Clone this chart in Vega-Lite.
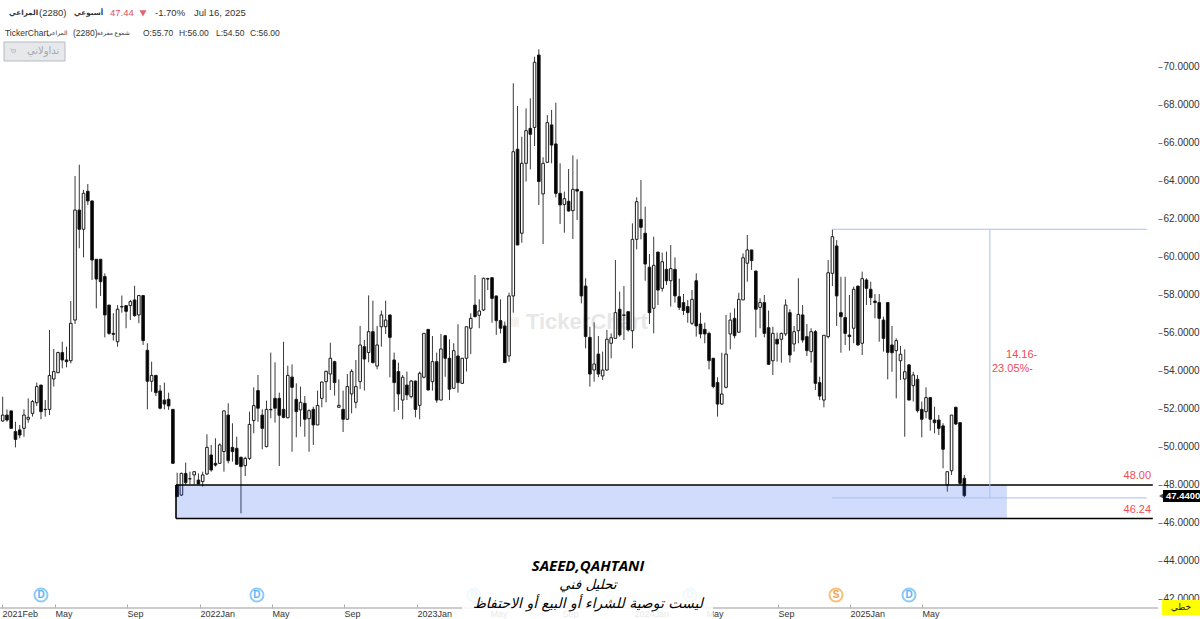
{"$schema":"https://vega.github.io/schema/vega-lite/v6.json","width":1200,"height":619,"padding":0,"autosize":{"type":"none"},"background":"#ffffff","config":{"view":{"stroke":null},"font":"Liberation Sans, DejaVu Sans"},
"datasets":{"candles":[
{"w":0,"o":51.37,"h":52.65,"l":51.33,"c":51.68},{"w":1,"o":51.68,"h":51.98,"l":51.33,"c":51.42},{"w":2,"o":51.9,"h":51.9,"l":50.98,"c":50.98},{"w":3,"o":50.81,"h":51.33,"l":49.98,"c":50.4},{"w":4,"o":50.9,"h":51.16,"l":50.46,"c":50.63},{"w":5,"o":50.98,"h":51.98,"l":50.54,"c":51.68},{"w":6,"o":51.46,"h":52.56,"l":51.28,"c":51.56},{"w":7,"o":51.77,"h":52.47,"l":51.6,"c":52.39},{"w":8,"o":52.33,"h":53.39,"l":52.16,"c":53.18},{"w":9,"o":53.26,"h":53.26,"l":51.46,"c":51.86},
{"w":10,"o":51.98,"h":52.47,"l":51.6,"c":51.97},{"w":11,"o":51.98,"h":56.16,"l":51.68,"c":53.76},{"w":12,"o":53.58,"h":55.16,"l":53.18,"c":53.97},{"w":13,"o":53.91,"h":55.02,"l":53.91,"c":54.97},{"w":14,"o":54.97,"h":55.54,"l":54.14,"c":54.58},{"w":15,"o":54.58,"h":55.28,"l":54.19,"c":54.49},{"w":16,"o":54.54,"h":57.68,"l":54.4,"c":56.51},{"w":17,"o":56.68,"h":64.26,"l":56.47,"c":62.47},{"w":18,"o":62.47,"h":64.86,"l":60.46,"c":61.46},{"w":19,"o":61.46,"h":63.53,"l":59.98,"c":63.35},
{"w":20,"o":63.46,"h":63.84,"l":62.74,"c":62.95},{"w":21,"o":62.95,"h":62.97,"l":58.79,"c":59.84},{"w":22,"o":59.88,"h":59.88,"l":57.3,"c":58.84},{"w":23,"o":59.88,"h":59.88,"l":57.95,"c":58.7},{"w":24,"o":58.97,"h":59.14,"l":55.77,"c":56.95},{"w":25,"o":57.47,"h":57.47,"l":55.9,"c":55.98},{"w":26,"o":55.98,"h":57.04,"l":55.6,"c":55.93},{"w":27,"o":55.54,"h":57.47,"l":55.28,"c":57.25},{"w":28,"o":57.39,"h":57.97,"l":57.07,"c":57.37},{"w":29,"o":57.44,"h":57.44,"l":56.25,"c":57.14},
{"w":30,"o":57.44,"h":57.74,"l":56.68,"c":57.65},{"w":31,"o":57.74,"h":58.49,"l":56.86,"c":56.91},{"w":32,"o":56.95,"h":58,"l":56.51,"c":57.97},{"w":33,"o":57.97,"h":57.97,"l":55.37,"c":55.6},{"w":34,"o":55.09,"h":55.46,"l":51.98,"c":53.46},{"w":35,"o":53.46,"h":54.49,"l":52.91,"c":53.77},{"w":36,"o":53.77,"h":53.77,"l":52.68,"c":52.86},{"w":37,"o":52.95,"h":53.26,"l":51.98,"c":52.04},{"w":38,"o":52.47,"h":53.39,"l":51.98,"c":52.26},{"w":39,"o":52.51,"h":52.86,"l":51.95,"c":52.16},
{"w":40,"o":51.98,"h":51.98,"l":49.14,"c":49.14},{"w":41,"o":48,"h":48.65,"l":47.39,"c":47.39},{"w":42,"o":47.47,"h":48.65,"l":47.42,"c":48.61},{"w":43,"o":48.61,"h":49.18,"l":48,"c":48.12},{"w":44,"o":48.33,"h":48.7,"l":48.04,"c":48.32},{"w":45,"o":48.53,"h":48.7,"l":48.04,"c":48.7},{"w":46,"o":48.26,"h":48.61,"l":48.04,"c":48.05},{"w":47,"o":48.18,"h":48.7,"l":47.91,"c":48.53},{"w":48,"o":48.58,"h":50.67,"l":48.53,"c":49.98},{"w":49,"o":49.58,"h":50.11,"l":48.7,"c":48.79},
{"w":50,"o":49.14,"h":50.46,"l":48.97,"c":49.05},{"w":51,"o":49.14,"h":50.19,"l":49.11,"c":50.11},{"w":52,"o":49.76,"h":51.91,"l":48.7,"c":51.9},{"w":53,"o":51.68,"h":52.3,"l":49.14,"c":49.28},{"w":54,"o":49.98,"h":51.25,"l":49.23,"c":49.76},{"w":55,"o":49.93,"h":50.54,"l":49.05,"c":49.09},{"w":56,"o":49.46,"h":49.49,"l":46.51,"c":48.97},{"w":57,"o":49.02,"h":49.49,"l":48.47,"c":49.4},{"w":58,"o":49.4,"h":51.86,"l":49.32,"c":51.19},{"w":59,"o":51.39,"h":53.14,"l":50.72,"c":52.18},
{"w":60,"o":52.97,"h":53.79,"l":51.33,"c":52.04},{"w":61,"o":51.68,"h":51.98,"l":49.88,"c":50.98},{"w":62,"o":50.02,"h":52.44,"l":49.98,"c":51.98},{"w":63,"o":51.98,"h":54.97,"l":51.51,"c":51.96},{"w":64,"o":52.56,"h":54.46,"l":51.28,"c":52.04},{"w":65,"o":52.56,"h":52.86,"l":49,"c":51.67},{"w":66,"o":51.98,"h":55.54,"l":51.51,"c":51.56},{"w":67,"o":51.54,"h":54.28,"l":51.51,"c":53.77},{"w":68,"o":53.68,"h":54.35,"l":49.75,"c":53.14},{"w":69,"o":52.51,"h":53.35,"l":50.51,"c":51.86},
{"w":70,"o":51.95,"h":53.18,"l":51.07,"c":52.35},{"w":71,"o":52.3,"h":52.68,"l":50.54,"c":51.46},{"w":72,"o":51.49,"h":51.98,"l":49.75,"c":51.91},{"w":73,"o":51.98,"h":52.12,"l":50.11,"c":51.16},{"w":74,"o":51.16,"h":52.97,"l":51.16,"c":52.19},{"w":75,"o":52.56,"h":53.44,"l":52.09,"c":53.42},{"w":76,"o":53.44,"h":54.02,"l":52.35,"c":53.98},{"w":77,"o":53.84,"h":55.49,"l":53,"c":54.67},{"w":78,"o":54.49,"h":54.54,"l":52.7,"c":53.39},{"w":79,"o":52.09,"h":53.56,"l":52.09,"c":52.19},
{"w":80,"o":51.98,"h":52.97,"l":50.79,"c":51.46},{"w":81,"o":51.46,"h":53.84,"l":51.42,"c":53.18},{"w":82,"o":52.79,"h":54.09,"l":51.77,"c":53.98},{"w":83,"o":52.35,"h":54.58,"l":52.04,"c":53.18},{"w":84,"o":53.44,"h":56.37,"l":53.05,"c":55.37},{"w":85,"o":55.28,"h":55.63,"l":52.97,"c":54.63},{"w":86,"o":54.97,"h":57.98,"l":54.46,"c":56.07},{"w":87,"o":56.07,"h":57.7,"l":54.4,"c":54.44},{"w":88,"o":54.26,"h":56.37,"l":54.09,"c":55.37},{"w":89,"o":56.33,"h":57.18,"l":55.28,"c":56.95},
{"w":90,"o":56.33,"h":57.7,"l":55.95,"c":56.68},{"w":91,"o":56.95,"h":56.95,"l":53.67,"c":55.77},{"w":92,"o":54.58,"h":54.97,"l":51.86,"c":53.39},{"w":93,"o":53.97,"h":54.44,"l":51.95,"c":52.79},{"w":94,"o":52.47,"h":53.79,"l":51.46,"c":53.67},{"w":95,"o":53.26,"h":53.97,"l":52.47,"c":52.74},{"w":96,"o":52.65,"h":53.53,"l":52.56,"c":53.47},{"w":97,"o":53.47,"h":53.49,"l":51.56,"c":51.98},{"w":98,"o":52.19,"h":53.97,"l":51.46,"c":53.88},{"w":99,"o":53.67,"h":55.98,"l":53.61,"c":55.98},
{"w":100,"o":56.19,"h":56.19,"l":52.97,"c":53},{"w":101,"o":53.44,"h":55.84,"l":52.97,"c":54.49},{"w":102,"o":54.49,"h":54.97,"l":52.33,"c":52.47},{"w":103,"o":52.47,"h":55.95,"l":52.47,"c":55.16},{"w":104,"o":55.86,"h":55.9,"l":53.7,"c":54.67},{"w":105,"o":54.67,"h":55.67,"l":52.47,"c":53.04},{"w":106,"o":53.09,"h":55.46,"l":53.09,"c":55.07},{"w":107,"o":54.79,"h":56.46,"l":52.86,"c":53.39},{"w":108,"o":53.35,"h":54.67,"l":53.32,"c":54.67},{"w":109,"o":54.67,"h":56.33,"l":53.97,"c":56.33},
{"w":110,"o":56.25,"h":57.04,"l":54.89,"c":56.77},{"w":111,"o":57.47,"h":59.05,"l":56.82,"c":56.86},{"w":112,"o":56.93,"h":57.77,"l":56.25,"c":57.16},{"w":113,"o":57.21,"h":58.91,"l":57.16,"c":58.88},{"w":114,"o":58.86,"h":58.91,"l":58.26,"c":58.84},{"w":115,"o":58.91,"h":58.91,"l":56.54,"c":57.82},{"w":116,"o":57.95,"h":57.95,"l":55.9,"c":56.65},{"w":117,"o":56.65,"h":57.77,"l":55.98,"c":56.25},{"w":118,"o":56.37,"h":56.6,"l":54.44,"c":54.44},{"w":119,"o":54.79,"h":58.12,"l":54.49,"c":57.95},
{"w":120,"o":57.95,"h":69.14,"l":57.07,"c":65.54},{"w":121,"o":65.67,"h":67.95,"l":60.63,"c":60.63},{"w":122,"o":61.25,"h":66.33,"l":60.75,"c":64.93},{"w":123,"o":64.93,"h":67.82,"l":63.97,"c":66.65},{"w":124,"o":66.77,"h":68.35,"l":64.61,"c":66.46},{"w":125,"o":66.82,"h":70.54,"l":65.84,"c":70.25},{"w":126,"o":70.63,"h":70.93,"l":62.74,"c":63.97},{"w":127,"o":63.32,"h":65.25,"l":60.68,"c":64.93},{"w":128,"o":64.98,"h":67.47,"l":64.97,"c":67.07},{"w":129,"o":66.95,"h":67.74,"l":64.93,"c":65.89},
{"w":130,"o":65.95,"h":68.12,"l":63.14,"c":63.35},{"w":131,"o":63.35,"h":64.93,"l":61.74,"c":62.74},{"w":132,"o":62.76,"h":63.44,"l":61.28,"c":63.07},{"w":133,"o":62.93,"h":64.63,"l":62.39,"c":62.42},{"w":134,"o":62.44,"h":65.35,"l":60.95,"c":63.56},{"w":135,"o":63.56,"h":65.14,"l":61.95,"c":63.47},{"w":136,"o":63.44,"h":63.44,"l":57.56,"c":57.95},{"w":137,"o":58.47,"h":58.88,"l":55.19,"c":55.81},{"w":138,"o":55.77,"h":56.33,"l":53.18,"c":53.84},{"w":139,"o":54.05,"h":56.56,"l":53.44,"c":54.37},
{"w":140,"o":54.89,"h":55.84,"l":53.67,"c":53.84},{"w":141,"o":53.74,"h":55.02,"l":53.53,"c":54.05},{"w":142,"o":54.05,"h":56.16,"l":54.02,"c":55.67},{"w":143,"o":55.46,"h":55.98,"l":54.67,"c":55.75},{"w":144,"o":55.72,"h":59.84,"l":55.72,"c":57.07},{"w":145,"o":57.25,"h":58.18,"l":55.81,"c":55.9},{"w":146,"o":56.95,"h":58.47,"l":55.63,"c":56.93},{"w":147,"o":57.12,"h":57.12,"l":56.07,"c":56.16},{"w":148,"o":56.12,"h":61.77,"l":55.19,"c":60.93},{"w":149,"o":60.93,"h":63.14,"l":60.4,"c":62.91},
{"w":150,"o":61.98,"h":64.05,"l":60.93,"c":61.56},{"w":151,"o":61.25,"h":62.65,"l":58.75,"c":59.63},{"w":152,"o":59.46,"h":60.16,"l":56.47,"c":57.07},{"w":153,"o":57.3,"h":61.07,"l":55.98,"c":59.56},{"w":154,"o":60.26,"h":60.26,"l":57.47,"c":58.26},{"w":155,"o":58.35,"h":60.23,"l":58.18,"c":59.75},{"w":156,"o":59.35,"h":60.28,"l":58.53,"c":58.75},{"w":157,"o":58.75,"h":60.63,"l":57.39,"c":59.39},{"w":158,"o":59.35,"h":59.98,"l":57.6,"c":57.95},{"w":159,"o":57.91,"h":58.86,"l":57.21,"c":57.35},
{"w":160,"o":57.6,"h":58.05,"l":56.95,"c":57.18},{"w":161,"o":57.39,"h":57.74,"l":56.54,"c":57.07},{"w":162,"o":56.51,"h":58.26,"l":56.42,"c":57.77},{"w":163,"o":58.75,"h":59.14,"l":55.81,"c":56.37},{"w":164,"o":56.47,"h":57.07,"l":55.72,"c":55.95},{"w":165,"o":56.19,"h":56.54,"l":55.46,"c":55.95},{"w":166,"o":55.98,"h":56.07,"l":54.09,"c":54.54},{"w":167,"o":54.67,"h":54.67,"l":53.09,"c":53.18},{"w":168,"o":53.39,"h":53.67,"l":51.6,"c":52.26},{"w":169,"o":52.26,"h":54.96,"l":52.21,"c":52.79},
{"w":170,"o":53.14,"h":56.95,"l":53.09,"c":54.89},{"w":171,"o":55.95,"h":57.07,"l":55.14,"c":56.68},{"w":172,"o":56.77,"h":57.3,"l":55.72,"c":55.86},{"w":173,"o":56.04,"h":58.12,"l":56.02,"c":57.77},{"w":174,"o":57.74,"h":60.19,"l":57.74,"c":59.96},{"w":175,"o":59.67,"h":61.16,"l":58.7,"c":60.37},{"w":176,"o":60.37,"h":60.37,"l":59.32,"c":59.81},{"w":177,"o":59.26,"h":59.28,"l":55.77,"c":57.25},{"w":178,"o":57.35,"h":57.82,"l":56.25,"c":57.6},{"w":179,"o":57.6,"h":58,"l":55.77,"c":55.98},
{"w":180,"o":56.28,"h":57.18,"l":54.32,"c":54.35},{"w":181,"o":54.54,"h":56.33,"l":53.79,"c":55.98},{"w":182,"o":55.67,"h":56.02,"l":54.49,"c":55.42},{"w":183,"o":55.67,"h":56.02,"l":54.44,"c":55.98},{"w":184,"o":55.95,"h":57.77,"l":55.84,"c":57.47},{"w":185,"o":57.07,"h":57.25,"l":54.44,"c":54.84},{"w":186,"o":55.42,"h":56.37,"l":55.02,"c":56.07},{"w":187,"o":56.12,"h":58.88,"l":55.46,"c":56.98},{"w":188,"o":56.95,"h":57.47,"l":55.49,"c":55.63},{"w":189,"o":55.81,"h":56.47,"l":54.79,"c":55.07},
{"w":190,"o":55.02,"h":56.25,"l":54.44,"c":56.07},{"w":191,"o":56.07,"h":56.16,"l":53,"c":53.35},{"w":192,"o":53.39,"h":53.7,"l":52.47,"c":52.68},{"w":193,"o":52.47,"h":55.89,"l":52.09,"c":55.88},{"w":194,"o":55.81,"h":59.84,"l":55.72,"c":59.17},{"w":195,"o":59.14,"h":61.46,"l":58.47,"c":61.07},{"w":196,"o":60.58,"h":60.89,"l":56.37,"c":57.95},{"w":197,"o":57.07,"h":58.96,"l":54.96,"c":56.86},{"w":198,"o":56.81,"h":58.96,"l":55.37,"c":55.98},{"w":199,"o":55.89,"h":58,"l":55.07,"c":55.81},
{"w":200,"o":56.25,"h":58.44,"l":55.46,"c":58.3},{"w":201,"o":58.47,"h":58.47,"l":55.32,"c":55.37},{"w":202,"o":55.46,"h":59.23,"l":54.84,"c":58.86},{"w":203,"o":58.79,"h":58.88,"l":57.47,"c":58.35},{"w":204,"o":58.3,"h":58.7,"l":57.47,"c":57.86},{"w":205,"o":57.68,"h":58.05,"l":56.77,"c":57.6},{"w":206,"o":57.6,"h":58.05,"l":55.54,"c":56.77},{"w":207,"o":56.68,"h":56.86,"l":55.02,"c":55.72},{"w":208,"o":57.6,"h":57.6,"l":53.56,"c":54.98},{"w":209,"o":55.37,"h":56.37,"l":53.96,"c":54.96},
{"w":210,"o":55.07,"h":55.72,"l":52.56,"c":55.6},{"w":211,"o":54.54,"h":55.32,"l":53.53,"c":54.88},{"w":212,"o":53.58,"h":55.14,"l":50.54,"c":53.96},{"w":213,"o":54.32,"h":54.37,"l":52.47,"c":52.47},{"w":214,"o":53.23,"h":53.96,"l":52.39,"c":53.79},{"w":215,"o":53.56,"h":53.79,"l":51.81,"c":51.91},{"w":216,"o":51.98,"h":52.39,"l":50.51,"c":51.46},{"w":217,"o":51.86,"h":53.14,"l":51.51,"c":52.6},{"w":218,"o":52.6,"h":52.6,"l":50.86,"c":51.46},{"w":219,"o":51.42,"h":52.12,"l":50.72,"c":51.28},
{"w":220,"o":51.42,"h":51.68,"l":50.63,"c":50.98},{"w":221,"o":51.11,"h":51.25,"l":48.88,"c":49.88},{"w":222,"o":48,"h":48.7,"l":47.65,"c":48.7},{"w":223,"o":48.75,"h":51.68,"l":48.53,"c":51.68},{"w":224,"o":52.09,"h":52.12,"l":51.16,"c":51.21},{"w":225,"o":51.28,"h":51.28,"l":48,"c":48.09},{"w":226,"o":48.35,"h":48.53,"l":47.35,"c":47.44}
]},
"encoding":{"x":{"field":"w","type":"quantitative","title":null,"scale":{"domain":[-0.6345,281.39],"nice":false,"zero":false,"padding":0},"axis":{"orient":"bottom","offset":-11,"domain":false,"ticks":true,"tickSize":-4,"tickColor":"#aaaaaa","grid":false,"title":null,"labelFontSize":9,"labelColor":"#333333","labelAlign":"left","labelBaseline":"top","labelPadding":5,"labelOverlap":false,"labelBound":false,"labelFlush":false,"values":[-0.16,12.29,29.21,46.37,63.29,80.21,97.37,114.52,131.44,148.37,165.29,182.21,199.13,216.05],"labelExpr":"{'-0.16':'2021Feb','12.29':'May','29.21':'Sep','46.37':'2022Jan','63.29':'May','80.21':'Sep','97.37':'2023Jan','114.52':'May','131.44':'Sep','148.37':'2024Jan','165.29':'May','182.21':'Sep','199.13':'2025Jan','216.05':'May'}['' + datum.value]"}}},
"layer":[
{"data":{"values":[{"w":120.2,"p":56.58}]},"mark":{"type":"point","shape":"square","filled":true,"size":90,"color":"#f1ece2"},"encoding":{"y":{"field":"p","type":"quantitative","title":null,"scale":{"domain":[40.947,73.526],"nice":false,"zero":false,"padding":0},"axis":{"orient":"right","offset":-42,"values":[42,44,46,48,50,52,54,56,58,60,62,64,66,68,70],"format":".4f","domain":false,"grid":false,"title":null,"tickSize":4,"tickColor":"#777777","labelFontSize":10,"labelColor":"#333333","labelPadding":1,"labelOverlap":false,"labelBound":false}}}},
{"data":{"values":[{"w":137.3,"p":56.58,"t":"TickerChart"}]},"mark":{"type":"text","fontSize":22,"fontWeight":"bold","color":"#e7e7e7","align":"center","baseline":"middle"},"encoding":{"text":{"field":"t"},"y":{"field":"p","type":"quantitative","scale":{"domain":[40.947,73.526],"nice":false,"zero":false,"padding":0}}}},
{"data":{"name":"candles"},"mark":{"type":"rule","color":"#3a3a3a","strokeWidth":1},"encoding":{"y":{"field":"h","type":"quantitative","scale":{"domain":[40.947,73.526],"nice":false,"zero":false,"padding":0}},"y2":{"field":"l"}}},
{"data":{"name":"candles"},"mark":{"type":"bar","width":2.6,"stroke":"#1a1a1a","strokeWidth":1},"encoding":{"y":{"field":"o","type":"quantitative","scale":{"domain":[40.947,73.526],"nice":false,"zero":false,"padding":0}},"y2":{"field":"c"},"fill":{"condition":{"test":"datum.c > datum.o","value":"#ffffff"},"value":"#000000"}}},
{"data":{"values":[{"w":40.73,"w2":236,"p":48,"p2":46.24}]},"mark":{"type":"rect","color":"#2f5ff0","opacity":0.22},"encoding":{"x2":{"field":"w2"},"y":{"field":"p","type":"quantitative","scale":{"domain":[40.947,73.526],"nice":false,"zero":false,"padding":0}},"y2":{"field":"p2"}}},
{"data":{"values":[{"w":40.73,"w2":270.3,"p":48},{"w":40.73,"w2":270.3,"p":46.24}]},"mark":{"type":"rule","color":"#000000","strokeWidth":1.6},"encoding":{"x2":{"field":"w2"},"y":{"field":"p","type":"quantitative","scale":{"domain":[40.947,73.526],"nice":false,"zero":false,"padding":0}}}},
{"data":{"values":[{"w":40.73,"p":48,"p2":46.24}]},"mark":{"type":"rule","color":"#000000","strokeWidth":1.6},"encoding":{"y":{"field":"p","type":"quantitative","scale":{"domain":[40.947,73.526],"nice":false,"zero":false,"padding":0}},"y2":{"field":"p2"}}},
{"data":{"values":[{"w":194.9,"w2":268.9,"p":61.46},{"w":194.9,"w2":268.9,"p":47.32}]},"mark":{"type":"rule","color":"#a9c0f5","strokeWidth":1},"encoding":{"x2":{"field":"w2"},"y":{"field":"p","type":"quantitative","scale":{"domain":[40.947,73.526],"nice":false,"zero":false,"padding":0}}}},
{"data":{"values":[{"w":232,"p":61.46,"p2":47.32}]},"mark":{"type":"rule","color":"#a9c0f5","strokeWidth":1},"encoding":{"y":{"field":"p","type":"quantitative","scale":{"domain":[40.947,73.526],"nice":false,"zero":false,"padding":0}},"y2":{"field":"p2"}}},
{"data":{"values":[{"w":-0.63,"w2":271.5,"p":41.53}]},"mark":{"type":"rule","color":"#bbbbbb","strokeWidth":1.5},"encoding":{"x2":{"field":"w2"},"y":{"field":"p","type":"quantitative","scale":{"domain":[40.947,73.526],"nice":false,"zero":false,"padding":0}}}},
{"data":{"values":[{"w":9,"p":42.21,"k":"D"},{"w":59.76,"p":42.21,"k":"D"},{"w":110.76,"p":42.21,"k":"D"},{"w":161.5,"p":42.21,"k":"D"},{"w":213,"p":42.21,"k":"D"},{"w":195.84,"p":42.21,"k":"S"}]},"mark":{"type":"point","shape":"circle","size":170,"filled":true,"strokeWidth":2,"fill":"#ffffff"},"encoding":{"stroke":{"field":"k","type":"nominal","legend":null,"scale":{"domain":["D","S"],"range":["#5db4f5","#f7a541"]}},"y":{"field":"p","type":"quantitative","scale":{"domain":[40.947,73.526],"nice":false,"zero":false,"padding":0}}}},
{"data":{"values":[{"w":9,"p":42.21,"k":"D"},{"w":59.76,"p":42.21,"k":"D"},{"w":110.76,"p":42.21,"k":"D"},{"w":161.5,"p":42.21,"k":"D"},{"w":213,"p":42.21,"k":"D"},{"w":195.84,"p":42.21,"k":"S"}]},"mark":{"type":"text","fontSize":10,"fontWeight":"bold","align":"center","baseline":"middle"},"encoding":{"text":{"field":"k"},"color":{"field":"k","type":"nominal","legend":null,"scale":{"domain":["D","S"],"range":["#5db4f5","#f7a541"]}},"y":{"field":"p","type":"quantitative","scale":{"domain":[40.947,73.526],"nice":false,"zero":false,"padding":0}}}},
{"data":{"values":[{"w":107.94,"w2":166.93,"p":44.05,"p2":40.947}]},"mark":{"type":"rect","color":"#ffffff","opacity":0.88},"encoding":{"x2":{"field":"w2"},"y":{"field":"p","type":"quantitative","scale":{"domain":[40.947,73.526],"nice":false,"zero":false,"padding":0}},"y2":{"field":"p2"}}},
{"data":{"values":[{"w":137.55,"p":43.74,"t":"SAEED,QAHTANI"}]},"mark":{"type":"text","font":"Open Sans","fontSize":15,"fontWeight":"bold","fontStyle":"italic","color":"#000000","align":"center","baseline":"middle"},"encoding":{"text":{"field":"t"},"y":{"field":"p","type":"quantitative","scale":{"domain":[40.947,73.526],"nice":false,"zero":false,"padding":0}}}},
{"data":{"values":[{"w":137.55,"p":42.74,"t":"تحليل فني"}]},"mark":{"type":"text","font":"DejaVu Sans","fontSize":13.5,"fontStyle":"italic","color":"#000000","align":"center","baseline":"middle"},"encoding":{"text":{"field":"t"},"y":{"field":"p","type":"quantitative","scale":{"domain":[40.947,73.526],"nice":false,"zero":false,"padding":0}}}},
{"data":{"values":[{"w":137.55,"p":41.74,"t":"ليست توصية للشراء أو البيع أو الاحتفاظ"}]},"mark":{"type":"text","font":"DejaVu Sans","fontSize":14,"fontStyle":"italic","color":"#000000","align":"center","baseline":"middle"},"encoding":{"text":{"field":"t"},"y":{"field":"p","type":"quantitative","scale":{"domain":[40.947,73.526],"nice":false,"zero":false,"padding":0}}}},
{"data":{"values":[{"w":235.8,"p":54.84,"t":"14.16-"},{"w":232.5,"p":54.11,"t":"23.05%-"}]},"mark":{"type":"text","fontSize":11,"color":"#f24a55","align":"left","baseline":"middle"},"encoding":{"text":{"field":"t"},"y":{"field":"p","type":"quantitative","scale":{"domain":[40.947,73.526],"nice":false,"zero":false,"padding":0}}}},
{"data":{"values":[{"w":269.9,"p":48.47,"t":"48.00"},{"w":269.9,"p":46.71,"t":"46.24"}]},"mark":{"type":"text","fontSize":11,"color":"#f24a55","align":"right","baseline":"middle"},"encoding":{"text":{"field":"t"},"y":{"field":"p","type":"quantitative","scale":{"domain":[40.947,73.526],"nice":false,"zero":false,"padding":0}}}},
{"data":{"values":[{"w":272.7,"w2":281.39,"p":47.74,"p2":47.11}]},"mark":{"type":"rect","color":"#000000"},"encoding":{"x2":{"field":"w2"},"y":{"field":"p","type":"quantitative","scale":{"domain":[40.947,73.526],"nice":false,"zero":false,"padding":0}},"y2":{"field":"p2"}}},
{"data":{"values":[{"w":272.6,"p":47.42}]},"mark":{"type":"point","shape":"triangle-left","filled":true,"size":70,"color":"#000000"},"encoding":{"y":{"field":"p","type":"quantitative","scale":{"domain":[40.947,73.526],"nice":false,"zero":false,"padding":0}}}},
{"data":{"values":[{"w":273.4,"p":47.42,"t":"47.4400"}]},"mark":{"type":"text","fontSize":9.5,"fontWeight":"bold","color":"#ffffff","align":"left","baseline":"middle"},"encoding":{"text":{"field":"t"},"y":{"field":"p","type":"quantitative","scale":{"domain":[40.947,73.526],"nice":false,"zero":false,"padding":0}}}},
{"data":{"values":[{"w":272.46,"w2":281.39,"p":41.95,"p2":41.16}]},"mark":{"type":"rect","color":"#ffff00"},"encoding":{"x2":{"field":"w2"},"y":{"field":"p","type":"quantitative","scale":{"domain":[40.947,73.526],"nice":false,"zero":false,"padding":0}},"y2":{"field":"p2"}}},
{"data":{"values":[{"w":276.9,"p":41.58,"t":"خطي"}]},"mark":{"type":"text","font":"DejaVu Sans","fontSize":9,"color":"#222222","align":"center","baseline":"middle"},"encoding":{"text":{"field":"t"},"y":{"field":"p","type":"quantitative","scale":{"domain":[40.947,73.526],"nice":false,"zero":false,"padding":0}}}},
{"data":{"values":[{"w":1.48,"p":72.84,"t":"المراعي"},{"w":16.76,"p":72.84,"t":"أسبوعي"}]},"mark":{"type":"text","fontSize":7.2,"fontWeight":"bold","color":"#333333","align":"left","baseline":"middle"},"encoding":{"text":{"field":"t"},"y":{"field":"p","type":"quantitative","scale":{"domain":[40.947,73.526],"nice":false,"zero":false,"padding":0}}}},
{"data":{"values":[{"w":8.53,"p":72.84,"t":"(2280)"},{"w":35.79,"p":72.84,"t":"-1.70%"},{"w":44.96,"p":72.84,"t":"Jul 16, 2025"}]},"mark":{"type":"text","fontSize":9.5,"color":"#333333","align":"left","baseline":"middle"},"encoding":{"text":{"field":"t"},"y":{"field":"p","type":"quantitative","scale":{"domain":[40.947,73.526],"nice":false,"zero":false,"padding":0}}}},
{"data":{"values":[{"w":25.22,"p":72.84,"t":"47.44"}]},"mark":{"type":"text","fontSize":9.5,"color":"#e0525c","align":"left","baseline":"middle"},"encoding":{"text":{"field":"t"},"y":{"field":"p","type":"quantitative","scale":{"domain":[40.947,73.526],"nice":false,"zero":false,"padding":0}}}},
{"data":{"values":[{"w":32.97,"p":72.82}]},"mark":{"type":"point","shape":"triangle-down","filled":true,"size":50,"color":"#d42035"},"encoding":{"y":{"field":"p","type":"quantitative","scale":{"domain":[40.947,73.526],"nice":false,"zero":false,"padding":0}}}},
{"data":{"values":[{"w":10.4,"p":71.79,"t":"المراعي"},{"w":22.16,"p":71.79,"t":"شموع مفرغة"}]},"mark":{"type":"text","fontSize":6,"color":"#333333","align":"left","baseline":"middle"},"encoding":{"text":{"field":"t"},"y":{"field":"p","type":"quantitative","scale":{"domain":[40.947,73.526],"nice":false,"zero":false,"padding":0}}}},
{"data":{"values":[{"w":0.54,"p":71.79,"t":"TickerChart"},{"w":16.52,"p":71.79,"t":"(2280)"},{"w":32.97,"p":71.79,"t":"O:55.70"},{"w":41.43,"p":71.79,"t":"H:56.00"},{"w":50.13,"p":71.79,"t":"L:54.50"},{"w":58.12,"p":71.79,"t":"C:56.00"}]},"mark":{"type":"text","fontSize":8.5,"color":"#333333","align":"left","baseline":"middle"},"encoding":{"text":{"field":"t"},"y":{"field":"p","type":"quantitative","scale":{"domain":[40.947,73.526],"nice":false,"zero":false,"padding":0}}}},
{"data":{"values":[{"w":0.31,"w2":14.64,"p":71.316,"p2":70.316}]},"mark":{"type":"rect","fill":"#e6e8ea","stroke":"#b5bac2","strokeWidth":1},"encoding":{"x2":{"field":"w2"},"y":{"field":"p","type":"quantitative","scale":{"domain":[40.947,73.526],"nice":false,"zero":false,"padding":0}},"y2":{"field":"p2"}}},
{"data":{"values":[{"w":2.42,"p":70.84}]},"mark":{"type":"point","shape":"M-1,-0.8L-0.6,-0.8L-0.3,0.4L0.8,0.4L1,-0.5L-0.5,-0.5M-0.25,0.8L-0.05,0.8M0.55,0.8L0.75,0.8","filled":false,"size":30,"strokeWidth":1,"color":"#b0b4ba"},"encoding":{"y":{"field":"p","type":"quantitative","scale":{"domain":[40.947,73.526],"nice":false,"zero":false,"padding":0}}}},
{"data":{"values":[{"w":9.5,"p":70.84,"t":"تداولاتي"}]},"mark":{"type":"text","fontSize":10,"color":"#a5a9af","align":"center","baseline":"middle"},"encoding":{"text":{"field":"t"},"y":{"field":"p","type":"quantitative","scale":{"domain":[40.947,73.526],"nice":false,"zero":false,"padding":0}}}}
]}
